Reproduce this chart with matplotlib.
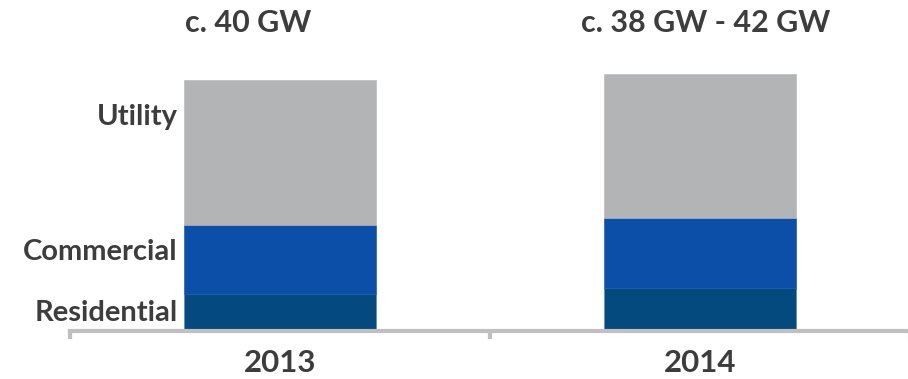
import numpy as np
import matplotlib.pyplot as plt

plt.rcParams['font.family'] = ['Lato', 'DejaVu Sans']

# data (GW)
years = ["2013", "2014"]
segments = ["Residential", "Commercial", "Utility"]
residential = [5.9, 6.9]
commercial = [11.0, 11.2]
utility = [23.1, 22.9]
totals_text = ["c. 40 GW", "c. 38 GW - 42 GW"]

colors = ["#044a7e", "#0c4fa8", "#b3b4b6"]
edges = ["#4a86c8", "#0c4fa8", "#b3b4b6"]
txt = "#3d3d3d"
axis_col = "#c0c0c0"

W, H = 908, 379
fig = plt.figure(figsize=(W / 100, H / 100), dpi=100)
# axis line runs from x=70 px to the right edge, baseline at y=331 px
ax = fig.add_axes([70 / W, 48 / H, 840 / W, 282 / H])

x = np.arange(len(years)) + 0.5
bottom = np.zeros(len(years))
for vals, c, e in zip([residential, commercial, utility], colors, edges):
    ax.bar(x, vals, width=0.455, bottom=bottom, color=c,
           edgecolor=e, linewidth=0.4, zorder=2)
    bottom += np.array(vals)

ax.set_xlim(0, 2)
ax.set_ylim(0, 45)
ax.set_yticks([])
for s in ["top", "right", "left"]:
    ax.spines[s].set_visible(False)
ax.spines["bottom"].set_color(axis_col)
ax.spines["bottom"].set_linewidth(3)
ax.spines["bottom"].set_zorder(3)

ax.set_xticks(x)
ax.set_xticklabels(years, fontsize=22.5, fontweight="bold", color=txt)
ax.tick_params(axis="x", which="major", length=0, pad=13)
ax.set_xticks([0, 1, 2], minor=True)
ax.tick_params(axis="x", which="minor", length=6, width=3, color=axis_col)

# totals above bars
tx = [248, 706]
for xp, t in zip(tx, totals_text):
    fig.text(xp / W, 1 - 23 / H, t, ha="center", va="center",
             fontsize=22, fontweight="bold", color=txt)

# segment labels on the left
label_y = [313, 252, 117]
for yp, lab in zip(label_y, segments):
    fig.text(178 / W, 1 - yp / H, lab, ha="right", va="center",
             fontsize=21, fontweight="bold", color=txt)

fig.savefig("out.png", dpi=100)
